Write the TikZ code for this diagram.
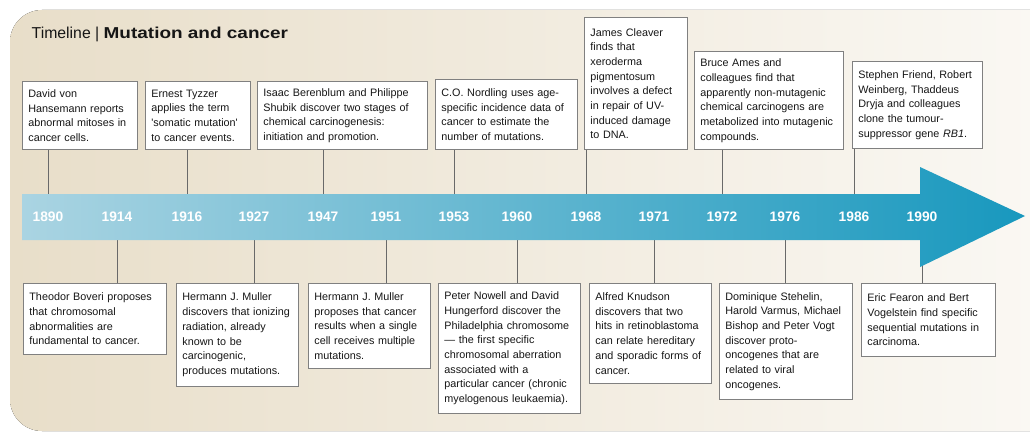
\documentclass[tikz,border=0pt]{standalone}
\usepackage{fontspec}
\setmainfont{Liberation Sans}
\usepackage{graphicx}
\definecolor{bgL}{RGB}{232,222,201}
\definecolor{bgR}{RGB}{251,249,245}
\definecolor{arrowL}{RGB}{170,212,226}
\definecolor{arrowR}{RGB}{24,152,190}
\definecolor{boxgray}{RGB}{128,128,128}
\definecolor{linegray}{RGB}{105,105,105}
\definecolor{textc}{RGB}{22,22,22}
\tikzset{
  tbox/.style={draw=boxgray, line width=0.8pt, fill=white, inner xsep=6pt, inner ysep=0pt,
    align=left, text=textc, font=\fontsize{10.8}{14.7}\selectfont},
  conn/.style={draw=linegray, line width=0.8pt},
  yearlabel/.style={text=white, inner sep=0pt, font=\bfseries\fontsize{13.8}{14}\selectfont}
}
\begin{document}
\begin{tikzpicture}[x=1pt,y=-1pt]
\useasboundingbox (0,0) rectangle (1030,433);
% background panel
\fill[left color=bgL, right color=bgR, rounded corners=32pt] (10,10) rectangle (1080,431);
% title
\node[anchor=base west, inner sep=0pt, text=textc] (title) at (31.5,39)
  {\fontsize{15.8}{18}\selectfont Timeline | \textbf{\scalebox{1.2}[1]{Mutation and cancer}}};
% reference coordinates
\coordinate (shafttop) at (0,194);
\coordinate (shaftbot) at (0,240);
% year label positions
\path (48,217) coordinate (c1890) (117,217) coordinate (c1914) (187,217) coordinate (c1916)
      (254,217) coordinate (c1927) (323,217) coordinate (c1947) (386,217) coordinate (c1951)
      (454,217) coordinate (c1953) (517,217) coordinate (c1960) (586,217) coordinate (c1968)
      (654,217) coordinate (c1971) (722,217) coordinate (c1972) (785,217) coordinate (c1976)
      (854,217) coordinate (c1986) (922,217) coordinate (c1990);
% top boxes
\node[tbox, text width=103pt, minimum height=68pt, anchor=south west] (t1890) at (22,150)
  {David von\\Hansemann reports\\abnormal mitoses in\\cancer cells.};
\node[tbox, text width=93pt, minimum height=68pt, anchor=south west] (t1916) at (145,150)
  {Ernest Tyzzer\\applies the term\\\textquotesingle somatic mutation\textquotesingle\\to cancer events.};
\node[tbox, text width=158pt, minimum height=68pt, anchor=south west] (t1947) at (257,150)
  {Isaac Berenblum and Philippe\\Shubik discover two stages of\\chemical carcinogenesis:\\initiation and promotion.};
\node[tbox, text width=130pt, minimum height=70pt, anchor=south west] (t1953) at (435,150)
  {C.O. Nordling uses age-\\specific incidence data of\\cancer to estimate the\\number of mutations.};
\node[tbox, text width=91pt, minimum height=132pt, anchor=south west] (t1968) at (584,150)
  {James Cleaver\\finds that\\xeroderma\\pigmentosum\\involves a defect\\in repair of UV-\\induced damage\\to DNA.};
\node[tbox, text width=137pt, minimum height=98pt, anchor=south west] (t1972) at (694,150)
  {Bruce Ames and\\colleagues find that\\apparently non-mutagenic\\chemical carcinogens are\\metabolized into mutagenic\\compounds.};
\node[tbox, text width=118pt, minimum height=87pt, anchor=south west] (t1986) at (852,149)
  {Stephen Friend, Robert\\Weinberg, Thaddeus\\Dryja and colleagues\\clone the tumour-\\suppressor gene \textit{RB1}.};
% bottom boxes
\node[tbox, text width=131pt, minimum height=71pt, anchor=north west] (b1914) at (23,283)
  {Theodor Boveri proposes\\that chromosomal\\abnormalities are\\fundamental to cancer.};
\node[tbox, text width=110pt, minimum height=103pt, anchor=north west] (b1927) at (176,283)
  {Hermann J. Muller\\discovers that ionizing\\radiation, already\\known to be\\carcinogenic,\\produces mutations.};
\node[tbox, text width=110pt, minimum height=85pt, anchor=north west] (b1951) at (308,283)
  {Hermann J. Muller\\proposes that cancer\\results when a single\\cell receives multiple\\mutations.};
\node[tbox, text width=130pt, minimum height=130pt, anchor=north west] (b1960) at (438,283)
  {Peter Nowell and David\\Hungerford discover the\\Philadelphia chromosome\\— the first specific\\chromosomal aberration\\associated with a\\particular cancer (chronic\\myelogenous leukaemia).};
\node[tbox, text width=110pt, minimum height=100pt, anchor=north west] (b1971) at (589,283)
  {Alfred Knudson\\discovers that two\\hits in retinoblastoma\\can relate hereditary\\and sporadic forms of\\cancer.};
\node[tbox, text width=121pt, minimum height=116pt, anchor=north west] (b1976) at (719,283)
  {Dominique Stehelin,\\Harold Varmus, Michael\\Bishop and Peter Vogt\\discover proto-\\oncogenes that are\\related to viral\\oncogenes.};
\node[tbox, text width=122pt, minimum height=73pt, anchor=north west] (b1990) at (861,283)
  {Eric Fearon and Bert\\Vogelstein find specific\\sequential mutations in\\carcinoma.};
% connectors (drawn before arrow so it covers their ends)
\foreach \yr in {1890,1916,1947,1953,1968,1972,1986}
  \draw[conn] (t\yr.south -| c\yr) -- (shafttop -| c\yr);
\foreach \yr in {1914,1927,1951,1960,1971,1976}
  \draw[conn] (b\yr.north -| c\yr) -- (shaftbot -| c\yr);
\draw[conn] (b1990.north -| c1990) -- (shafttop -| c1990);
% arrow
\path[left color=arrowL, right color=arrowR]
  (22,194) -- (920,194) -- (920,167) -- (1025,216) -- (920,267) -- (920,240) -- (22,240) -- cycle;
% year labels
\foreach \yr in {1890,1914,1916,1927,1947,1951,1953,1960,1968,1971,1972,1976,1986,1990}
  \node[yearlabel] (y\yr) at (c\yr) {\yr};
\end{tikzpicture}
\end{document}
